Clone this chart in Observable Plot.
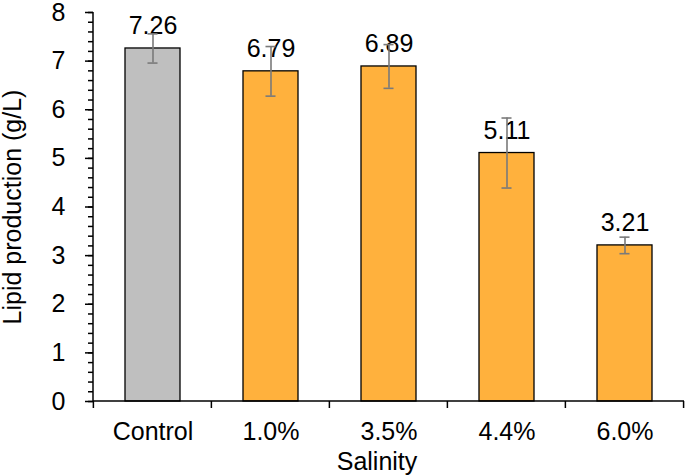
<!DOCTYPE html>
<html>
<head>
<meta charset="utf-8">
<script src="https://cdn.jsdelivr.net/npm/d3@7"></script>
<script src="https://cdn.jsdelivr.net/npm/@observablehq/plot@0.6"></script>
<style>
  html, body { margin: 0; padding: 0; background: #fff; }
  #chart svg { display: block; }
</style>
</head>
<body>
<div id="chart"></div>
<script>
// ---- data ----
const categories = ["Control", "1.0%", "3.5%", "4.4%", "6.0%"];
const values = [7.26, 6.79, 6.89, 5.11, 3.21];
const errors = [0.30, 0.51, 0.45, 0.72, 0.17];
const valueLabels = ["7.26", "6.79", "6.89", "5.11", "3.21"];
const barColors = ["#BFBFBF", "#FFB13D", "#FFB13D", "#FFB13D", "#FFB13D"];
const yTicks = [0, 1, 2, 3, 4, 5, 6, 7, 8];
const yMinorTicks = [0,0.2,0.4,0.6,0.8,1,1.2,1.4,1.6,1.8,2,2.2,2.4,2.6,2.8,3,3.2,3.4,3.6,3.8,4,4.2,4.4,4.6,4.8,5,5.2,5.4,5.6,5.8,6,6.2,6.4,6.6,6.8,7,7.2,7.4,7.6,7.8,8];
const yDomain = [0, 8];
const xTitle = "Salinity";
const yTitle = "Lipid production (g/L)";

// ---- layout ----
const W = 685, H = 476;
const mL = 93, mR = 1, mT = 12, mB = 75;
const padInner = 0.535;
const step = (W - mL - mR) / categories.length;
const bandwidth = step * (1 - padInner);
const capWidth = 10;
const fs = 25;
const font = "'Liberation Sans', Arial, sans-serif";

const data = categories.map((c, i) => ({
  cat: c, value: values[i], err: errors[i], label: valueLabels[i], fill: barColors[i]
}));

// axis lines + category boundary ticks (Excel style)
function axisLines(index, scales, vals, dims) {
  const g = d3.create("svg:g")
    .attr("stroke", "#000")
    .attr("stroke-width", 1.5)
    .attr("fill", "none");
  const x0 = dims.marginLeft;
  const x1 = dims.width - dims.marginRight;
  const y0 = scales.y(yDomain[0]);
  const yTop = scales.y(yDomain[1]);
  g.append("line").attr("x1", x0).attr("x2", x0).attr("y1", yTop).attr("y2", y0);
  g.append("line").attr("x1", x0).attr("x2", x1).attr("y1", y0).attr("y2", y0);
  const gap = step * padInner / 2;
  const bounds = categories.map(c => scales.x(c) - gap);
  bounds.push(scales.x(categories[categories.length - 1]) + bandwidth + gap);
  for (const b of bounds) {
    g.append("line").attr("x1", b).attr("x2", b).attr("y1", y0).attr("y2", y0 + 7);
  }
  return g.node();
}

const chart = Plot.plot({
  width: W,
  height: H,
  marginLeft: mL,
  marginRight: mR,
  marginTop: mT,
  marginBottom: mB,
  style: { fontFamily: font, fontSize: fs + "px", color: "#000", background: "#fff" },
  x: { type: "band", domain: categories, paddingInner: padInner, paddingOuter: padInner / 2, align: 0.5, axis: null },
  y: { domain: yDomain, axis: null },
  marks: [
    Plot.barY(data, { x: "cat", y: "value", fill: "fill", stroke: "#000", strokeWidth: 1.3 }),
    Plot.text(data, { x: "cat", y: "value", text: "label", dy: -22, fontSize: fs, fill: "#000" }),
    Plot.ruleX(data, { x: "cat", y1: d => d.value - d.err, y2: d => d.value + d.err, stroke: "#7A7A7A", strokeWidth: 1.6 }),
    Plot.tickY(data, { x: "cat", y: d => d.value + d.err, stroke: "#7A7A7A", strokeWidth: 1.6, inset: (bandwidth - capWidth) / 2 }),
    Plot.tickY(data, { x: "cat", y: d => d.value - d.err, stroke: "#7A7A7A", strokeWidth: 1.6, inset: (bandwidth - capWidth) / 2 }),
    Plot.axisY({ ticks: yMinorTicks, tickSize: 5, tickFormat: () => "", label: null, strokeWidth: 1.5 }),
    Plot.axisY({ ticks: yTicks, tickSize: 8, tickPadding: 20, fontSize: fs, label: null, strokeWidth: 1.5, tickFormat: d => String(d) }),
    Plot.axisX({ tickSize: 0, tickPadding: 21, fontSize: fs, label: null }),
    axisLines,
    Plot.text([yTitle], { frameAnchor: "left", textAnchor: "middle", lineAnchor: "middle", rotate: -90, dx: -81, fontSize: fs, fill: "#000" }),
    Plot.text([xTitle], { frameAnchor: "bottom", textAnchor: "middle", lineAnchor: "middle", dy: 60, dx: -12, fontSize: fs, fill: "#000" })
  ]
});

document.getElementById("chart").appendChild(chart);
</script>
</body>
</html>
